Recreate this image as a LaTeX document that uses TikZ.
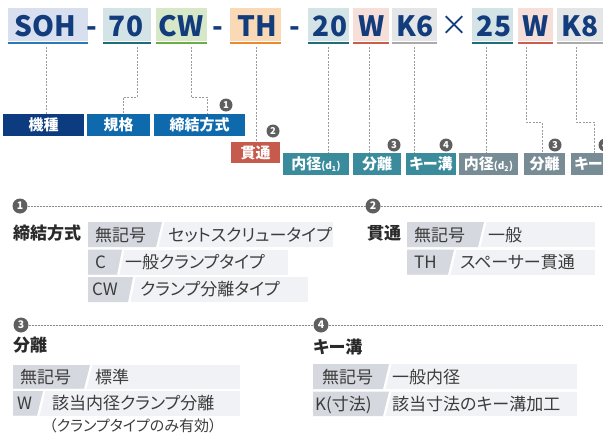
\documentclass[tikz,border=0pt]{standalone}
\usepackage{fontspec}
\setmainfont{Noto Sans CJK JP}[RawFeature=+palt]
\usetikzlibrary{calc}
\definecolor{navy}{HTML}{123C7C}
\definecolor{bgSOH}{HTML}{D8E0EF}\definecolor{lnSOH}{HTML}{2A7AB8}
\definecolor{bgNum}{HTML}{D4E3E6}\definecolor{lnNum}{HTML}{1E6D7B}
\definecolor{bgCW}{HTML}{D6E8C8}\definecolor{lnCW}{HTML}{6AAF45}
\definecolor{bgTH}{HTML}{F9D9B6}\definecolor{lnTH}{HTML}{EA8A2F}
\definecolor{bgW}{HTML}{F6DFD8}\definecolor{lnW}{HTML}{C95E4F}
\definecolor{bgK}{HTML}{E4E5E7}\definecolor{lnK}{HTML}{AAAAAA}
\definecolor{labNavy}{HTML}{0C3B80}\definecolor{labBlue}{HTML}{0E6AAD}
\definecolor{labRed}{HTML}{C65A4C}\definecolor{labTeal}{HTML}{3A8C9C}
\definecolor{labGrey}{HTML}{788C96}
\definecolor{connc}{HTML}{9A9A9A}\definecolor{numc}{HTML}{5F5F5F}
\definecolor{dotc}{HTML}{8A8A8A}
\definecolor{keyc}{HTML}{D5D8DE}\definecolor{valc}{HTML}{F1F2F5}
\definecolor{celltext}{HTML}{3C3C3C}\definecolor{sectext}{HTML}{2A2A2A}
\newcommand\codebg[4]{\fill[#3] (#1,8) rectangle (#2,41.2);\fill[#4] (#1,41.6) rectangle (#2,44);}
\newcommand\trow[6]{\fill[valc] (#1,#3) rectangle (#2,#4);
  \fill[white] (#5,#3) -- (#5+2.5,#3) -- (#6+2.5,#4) -- (#6,#4) -- cycle;
  \fill[keyc] (#1,#3) -- (#5,#3) -- (#6,#4) -- (#1,#4) -- cycle;}
\begin{document}
\begin{tikzpicture}[x=1pt,y=-1pt,
  code/.style={font=\fontsize{28}{28}\selectfont\bfseries, text=navy, inner sep=0, anchor=base},
  lab/.style={fill=#1, text=white, font=\fontsize{15}{15}\selectfont\bfseries, inner sep=0, minimum height=22pt},
  conn/.style={draw=connc, line width=0.8pt, dash pattern=on 2pt off 1.4pt},
  num/.style={circle, fill=numc, text=white, inner sep=0, minimum size=13pt, font=\fontsize{9.5}{9.5}\selectfont\bfseries},
  bignum/.style={num, minimum size=15pt, font=\fontsize{10.5}{10.5}\selectfont\bfseries},
  sec/.style={font=\fontsize{17}{17}\selectfont\bfseries, text=sectext, anchor=base west, inner sep=0},
  cell/.style={font=\fontsize{17}{17}\selectfont, text=celltext, anchor=base west, inner sep=0},
  note/.style={font=\fontsize{15}{15}\selectfont, text=celltext, anchor=base west, inner sep=0},
  dotl/.style={draw=dotc, line width=0.6pt, dash pattern=on 0.6pt off 0.9pt}]
\useasboundingbox (0,0) rectangle (603,434);
% ---------- code row ----------
\codebg{8}{88}{bgSOH}{lnSOH}
\codebg{103}{151}{bgNum}{lnNum}
\codebg{156}{207}{bgCW}{lnCW}
\codebg{230}{281}{bgTH}{lnTH}
\codebg{308}{349}{bgNum}{lnNum}
\codebg{353}{389}{bgW}{lnW}
\codebg{392}{437}{bgK}{lnK}
\codebg{472}{513}{bgNum}{lnNum}
\codebg{518}{553}{bgW}{lnW}
\codebg{557}{603}{bgK}{lnK}
\node[code] (cSOH) at (45,36) {SOH};
\node[code] (d1) at (92,36) {-};
\node[code] (c70) at (126,36) {70};
\node[code] (cCW) at (181,36) {CW};
\node[code] (d2) at (218,36) {-};
\node[code] (cTH) at (257,36) {TH};
\node[code] (d3) at (295,36) {-};
\node[code] (c20) at (330,36) {20};
\node[code] (cW1) at (372,36) {W};
\node[code] (cK6) at (415,36) {K6};
\node[code, font=\fontsize{28}{28}\selectfont] (times) at (454,35) {×};
\node[code] (c25) at (494,36) {25};
\node[code] (cW2) at (536,36) {W};
\node[code] (cK8) at (580,36) {K8};
% connector start points
\coordinate (sSOH) at (46,47);
\coordinate (s70) at (137,47);
\coordinate (sCW) at (191,47);
\coordinate (sTH) at (256,47);
\coordinate (s20) at (328,47);
\coordinate (sW1) at (369,47);
\coordinate (sK6) at (414,47);
\coordinate (s25) at (486,47);
\coordinate (sW2) at (526,47);
\coordinate (sK8) at (576,47);
% ---------- labels ----------
\node[lab=labNavy, minimum width=81pt] (lKishu) at (43.5,125) {機種};
\node[lab=labBlue, minimum width=63pt] (lKikaku) at (118.5,125) {規格};
\node[lab=labBlue, minimum width=91pt] (lKetsu) at (199.5,125) {締結方式};
\node[lab=labRed, minimum width=49pt, minimum height=21pt] (lKan) at (255.5,152.5) {貫通};
\node[lab=labTeal, minimum width=66pt] (lD1) at (316,164) {内径{\fontsize{10}{10}\selectfont(d\textsubscript{1})}};
\node[lab=labTeal, minimum width=48pt] (lBun1) at (377,164) {分離};
\node[lab=labTeal, minimum width=50pt] (lKey1) at (431,164) {キー溝};
\node[lab=labGrey, minimum width=59pt] (lD2) at (488.5,164) {内径{\fontsize{10}{10}\selectfont(d\textsubscript{2})}};
\node[lab=labGrey, minimum width=41pt] (lBun2) at (544.5,164) {分離};
\node[lab=labGrey, minimum width=50pt] (lKey2) at (596,164) {キー溝};
% ---------- connectors ----------
\draw[conn] (sSOH) -- (sSOH |- lKishu.north);
\draw[conn] (s70) -- (137,97) -- (123,97) -- (123,97 |- lKikaku.north);
\draw[conn] (sCW) -- (191,97) -- (207,97) -- (207,97 |- lKetsu.north);
\draw[conn] (sTH) -- (sTH |- lKan.north);
\draw[conn] (s20) -- (s20 |- lD1.north);
\draw[conn] (sW1) -- (sW1 |- lBun1.north);
\draw[conn] (sK6) -- (sK6 |- lKey1.north);
\draw[conn] (s25) -- (s25 |- lD2.north);
\draw[conn] (sW2) -- (526,122) -- (542,122) -- (542,122 |- lBun2.north);
\draw[conn] (sK8) -- (576,122) -- (594,122) -- (594,122 |- lKey2.north);
% numbered markers
\node[num] (n1) at (226,105) {1};
\node[num] (n2) at (273,131) {2};
\node[num] (n3a) at (394,145) {3};
\node[num] (n4a) at (446,145) {4};
\node[num] (n3b) at (555,145) {3};
\node[num] (n4b) at (605,145) {4};
% ---------- lower section markers ----------
\node[bignum] (m1) at (20,206) {1};
\node[bignum] (m2) at (373,206) {2};
\node[bignum] (m3) at (21,325) {3};
\node[bignum] (m4) at (321,325) {4};
\coordinate (e2) at (603,206);
\coordinate (e4) at (603,325);
\draw[dotl] (m1.east) -- (m2.west);
\draw[dotl] (m2.east) -- (e2);
\draw[dotl] (m3.east) -- (m4.west);
\draw[dotl] (m4.east) -- (e4);
% ---------- section 1 ----------
\node[sec] (t1) at (13,239.5) {締結方式};
\trow{88}{333}{222}{247}{162}{156}
\trow{88}{288}{249.5}{274.5}{122}{117}
\trow{88}{308}{277}{302}{133}{128}
\node[cell] (k11) at (95,241) {無記号};
\node[cell] (v11) at (168,241) {セットスクリュータイプ};
\node[cell] (k12) at (95,268.3) {C};
\node[cell] (v12) at (125,268.3) {一般クランプタイプ};
\node[cell] (k13) at (92,295.8) {CW};
\node[cell] (v13) at (140,295.8) {クランプ分離タイプ};
% ---------- section 2 ----------
\node[sec] (t2) at (367,239.5) {貫通};
\trow{407}{595}{222}{247}{484}{478}
\trow{407}{595}{249.5}{274.5}{454}{448}
\node[cell] (k21) at (414,241) {無記号};
\node[cell] (v21) at (488,241) {一般};
\node[cell] (k22) at (414,268.3) {TH};
\node[cell] (v22) at (460,268.3) {スペーサー貫通};
% ---------- section 3 ----------
\node[sec] (t3) at (13,351.5) {分離};
\trow{13}{240}{365}{388.5}{90}{84}
\trow{13}{240}{391}{415.5}{43}{37}
\node[cell] (k31) at (20,383) {無記号};
\node[cell] (v31) at (95,383) {標準};
\node[cell] (k32) at (17,409.5) {W};
\node[cell] (v32) at (52,409.5) {該当内径クランプ分離};
\node[note] (n32) at (49,431) {（クランプタイプのみ有効）};
% ---------- section 4 ----------
\node[sec] (t4) at (313,353.5) {キー溝};
\trow{313}{577}{364}{389}{389}{383}
\trow{313}{577}{391.5}{416}{389}{383}
\node[cell] (k41) at (322,383) {無記号};
\node[cell] (v41) at (392,383) {一般内径};
\node[cell] (k42) at (315,410) {K(寸法)};
\node[cell] (v42) at (392,410) {該当寸法のキー溝加工};
\end{tikzpicture}
\end{document}
